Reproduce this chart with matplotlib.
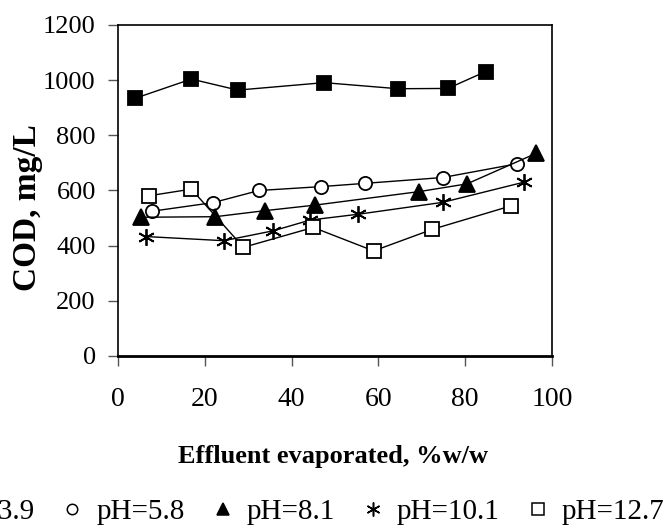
import matplotlib.pyplot as plt
from matplotlib.lines import Line2D

# data
x_ph39 = [3.9, 16.9, 27.6, 47.5, 64.5, 76.0, 84.7]
y_ph39 = [934, 1004, 964, 991, 969, 970, 1031]

x_ph58 = [7.9, 21.9, 32.5, 46.7, 57.0, 74.8, 92.0]
y_ph58 = [525, 556, 600, 614, 626, 647, 697]

x_ph81 = [5.2, 22.4, 33.9, 45.4, 69.4, 80.4, 96.4]
y_ph81 = [503, 505, 527, 547, 596, 624, 735]

x_ph101 = [6.5, 24.4, 35.8, 44.3, 55.4, 74.8, 93.5]
y_ph101 = [433, 418, 454, 493, 514, 557, 630]

x_ph127 = [7.2, 16.9, 28.9, 45.0, 58.9, 72.4, 90.5]
y_ph127 = [581, 605, 394, 466, 381, 459, 544]

labels = ['pH=3.9', 'pH=5.8', 'pH=8.1', 'pH=10.1', 'pH=12.7']

plt.rcParams['font.family'] = ['Liberation Serif', 'DejaVu Serif']

W, H = 669, 530
fig = plt.figure(figsize=(W/100, H/100), dpi=100)
ax = fig.add_axes([118/W, 1-356/H, (552-118)/W, (356-25)/H])

star = (6, 2, 0)
# x, y, marker, face colour, size in plot, size in legend
series = [
    (x_ph39, y_ph39, 's', 'black', 9.5, 8.5),
    (x_ph58, y_ph58, 'o', 'white', 9.5, 7.5),
    (x_ph81, y_ph81, '^', 'black', 11, 9),
    (x_ph101, y_ph101, star, 'black', 12, 10),
    (x_ph127, y_ph127, 's', 'white', 9.5, 8.5),
]

handles = []
for (xs, ys, m, fc, ms, lms), lab in zip(series, labels):
    ax.plot(xs, ys, color='black', lw=1.0, marker=m, markersize=ms,
            markerfacecolor=fc, markeredgecolor='black', markeredgewidth=1.3)
    handles.append(Line2D([], [], linestyle='none', marker=m, markersize=lms,
                          markerfacecolor=fc, markeredgecolor='black',
                          markeredgewidth=1.1, label=lab))

ax.set_xlim(0, 100)
ax.set_ylim(0, 1200)
ax.set_xticks(range(0, 101, 20))
ax.set_yticks(range(0, 1201, 200))
ax.tick_params(direction='out', length=7, width=1, color='#555555')
ax.tick_params(axis='x', labelsize=20, pad=15)
ax.tick_params(axis='y', labelsize=19, pad=9)
for s in ax.spines.values():
    s.set_linewidth(1.2)
ax.spines['bottom'].set_linewidth(2)

fig.text(28/W, 1-207.5/H, 'COD, mg/L', rotation=90, ha='center', va='center',
         fontsize=24, fontweight='bold')
fig.text(333/W, 1-463/H, 'Effluent evaporated, %w/w', ha='center', va='baseline',
         fontsize=19, fontweight='bold')

fig.legend(handles=handles, loc='center', bbox_to_anchor=(287.5/W, 1-512/H), ncol=5,
           frameon=False, fontsize=21, handlelength=0.8, handletextpad=0.42,
           columnspacing=0.9, borderpad=0.2)

fig.savefig('out.png', dpi=100)
